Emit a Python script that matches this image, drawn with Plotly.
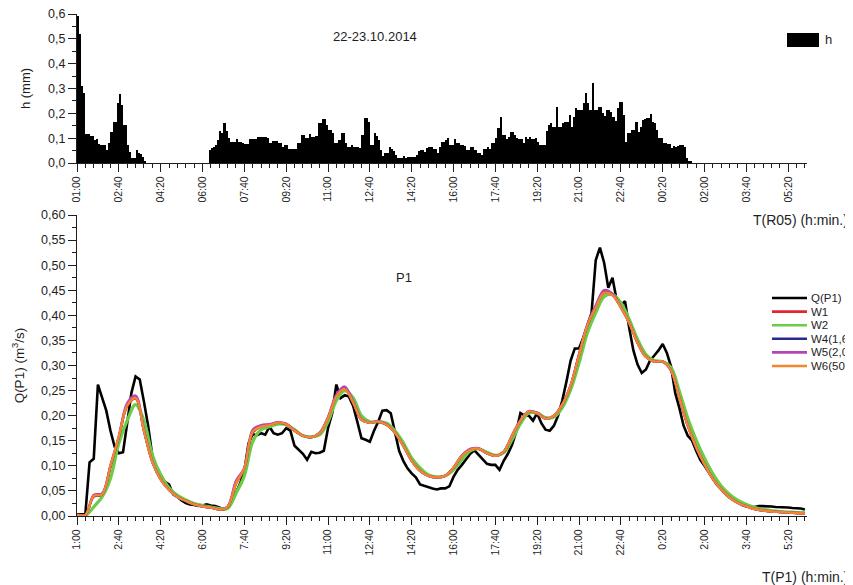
import pandas as pd
import plotly.graph_objects as go

# ---------------- data ----------------
START = "2014-10-22 01:00"
END = "2014-10-23 06:05"

# rainfall depth h (mm) per 5-minute interval, starting 01:00
rain_h = [
    0.59, 0.52, 0.31, 0.28,
    0.117, 0.117, 0.110, 0.109, 0.093, 0.098, 0.077, 0.071, 0.071, 0.071, 0.052, 0.082,
    0.126, 0.166, 0.166, 0.240, 0.277, 0.234, 0.153, 0.153, 0.072, 0.046, 0.019, 0.019,
    0.052, 0.039, 0.035, 0.026, 0.010,
    0.0, 0.0, 0.0, 0.0, 0.0, 0.0, 0.0, 0.0, 0.0, 0.0,
    0.0, 0.0, 0.0, 0.0, 0.0, 0.0, 0.0, 0.0, 0.0, 0.0,
    0.0, 0.0, 0.0, 0.0, 0.0, 0.0, 0.0, 0.0, 0.0, 0.0,
    0.052, 0.059, 0.065, 0.072, 0.093, 0.130, 0.120, 0.162, 0.130, 0.100,
    0.086, 0.086, 0.086, 0.095, 0.086, 0.086, 0.082, 0.077, 0.077, 0.095,
    0.095, 0.095, 0.095, 0.103, 0.106, 0.103, 0.103, 0.106, 0.100, 0.082,
    0.090, 0.090, 0.090, 0.079, 0.079, 0.066, 0.072, 0.072, 0.055, 0.055,
    0.055, 0.055, 0.079, 0.079, 0.113, 0.113, 0.100, 0.100, 0.117, 0.106,
    0.106, 0.109, 0.160, 0.162, 0.176, 0.176, 0.153, 0.133, 0.133, 0.122,
    0.079, 0.079, 0.093, 0.122, 0.122, 0.079, 0.063, 0.063, 0.072, 0.063,
    0.063, 0.063, 0.059, 0.113, 0.180, 0.180, 0.166, 0.072, 0.072, 0.120,
    0.110, 0.093, 0.052, 0.028, 0.039, 0.039, 0.066, 0.058, 0.050, 0.032,
    0.019, 0.019, 0.019, 0.028, 0.019, 0.023, 0.023, 0.023, 0.023, 0.032,
    0.050, 0.052, 0.052, 0.046, 0.059, 0.063, 0.063, 0.055, 0.055, 0.039,
    0.063, 0.086, 0.086, 0.093, 0.100, 0.072, 0.072, 0.095, 0.079, 0.079,
    0.072, 0.072, 0.068, 0.052, 0.052, 0.063, 0.063, 0.052, 0.039, 0.039,
    0.032, 0.055, 0.055, 0.063, 0.055, 0.079, 0.079, 0.100, 0.140, 0.184,
    0.113, 0.113, 0.095, 0.106, 0.126, 0.126, 0.113, 0.100, 0.095, 0.095,
    0.079, 0.103, 0.095, 0.103, 0.095, 0.095, 0.100, 0.086, 0.072, 0.072,
    0.072, 0.130, 0.153, 0.162, 0.146, 0.146, 0.224, 0.146, 0.146, 0.160,
    0.166, 0.166, 0.193, 0.146, 0.187, 0.220, 0.213, 0.213, 0.213, 0.240,
    0.280, 0.243, 0.213, 0.323, 0.213, 0.213, 0.224, 0.227, 0.203, 0.189,
    0.213, 0.213, 0.207, 0.187, 0.170, 0.220, 0.247, 0.247, 0.193, 0.086,
    0.122, 0.122, 0.133, 0.133, 0.166, 0.126, 0.146, 0.173, 0.176, 0.180,
    0.180, 0.197, 0.166, 0.160, 0.133, 0.100, 0.100, 0.082, 0.079, 0.077,
    0.077, 0.059, 0.068, 0.063, 0.068, 0.072, 0.072, 0.063, 0.019, 0.010, 0.010,
]

# measured discharge Q(P1) (m3/s) every 10 minutes, starting 01:00
q_p1 = [
    0.003, 0.003, 0.004, 0.107, 0.114, 0.262, 0.235, 0.210, 0.170, 0.138,
    0.125, 0.127, 0.185, 0.245, 0.278, 0.272, 0.228, 0.180, 0.120, 0.098,
    0.082, 0.068, 0.063, 0.043, 0.038, 0.031, 0.026, 0.023, 0.022, 0.020,
    0.021, 0.023, 0.021, 0.020, 0.017, 0.013, 0.016, 0.028, 0.046, 0.065,
    0.090, 0.145, 0.163, 0.161, 0.165, 0.162, 0.178, 0.165, 0.162, 0.165,
    0.175, 0.170, 0.140, 0.132, 0.124, 0.112, 0.128, 0.125, 0.126, 0.130,
    0.175, 0.205, 0.262, 0.235, 0.241, 0.238, 0.220, 0.188, 0.155, 0.152,
    0.148, 0.170, 0.188, 0.210, 0.211, 0.205, 0.165, 0.130, 0.110, 0.095,
    0.085, 0.077, 0.063, 0.060, 0.058, 0.055, 0.053, 0.055, 0.055, 0.059,
    0.078, 0.092, 0.102, 0.112, 0.124, 0.131, 0.122, 0.112, 0.104, 0.102,
    0.102, 0.092, 0.110, 0.124, 0.142, 0.168, 0.205, 0.200, 0.200, 0.190,
    0.205, 0.185, 0.172, 0.170, 0.180, 0.200, 0.230, 0.268, 0.310, 0.334,
    0.334, 0.355, 0.380, 0.405, 0.510, 0.535, 0.505, 0.455, 0.475, 0.430,
    0.420, 0.428, 0.375, 0.330, 0.302, 0.285, 0.292, 0.310, 0.320, 0.330,
    0.343, 0.325, 0.298, 0.245, 0.215, 0.180, 0.160, 0.151, 0.130, 0.112,
    0.100, 0.088, 0.074, 0.062, 0.054, 0.044, 0.037, 0.032, 0.026, 0.022,
    0.019, 0.018, 0.018, 0.020, 0.020, 0.019, 0.019, 0.018, 0.018, 0.017,
    0.017, 0.016, 0.016, 0.015, 0.013,
]

# modelled discharges every 20 minutes, starting 01:00
w1 = [
    0.002, 0.002, 0.039, 0.042, 0.098, 0.156, 0.219, 0.234, 0.171, 0.109,
    0.074, 0.053, 0.039, 0.030, 0.023, 0.019, 0.017, 0.013, 0.018, 0.064,
    0.094, 0.166, 0.178, 0.181, 0.186, 0.183, 0.170, 0.160, 0.157, 0.165,
    0.194, 0.237, 0.252, 0.226, 0.192, 0.186, 0.188, 0.182, 0.166, 0.141,
    0.111, 0.091, 0.080, 0.077, 0.080, 0.096, 0.120, 0.132, 0.134, 0.125,
    0.120, 0.128, 0.159, 0.190, 0.207, 0.205, 0.194, 0.199, 0.221, 0.259,
    0.321, 0.378, 0.414, 0.444, 0.440, 0.417, 0.386, 0.346, 0.318, 0.308,
    0.308, 0.290, 0.236, 0.181, 0.138, 0.104, 0.075, 0.054, 0.038, 0.027,
    0.019, 0.014, 0.011, 0.009, 0.008, 0.007, 0.006, 0.005,
]
w2 = [
    0.001, 0.001, 0.018, 0.038, 0.075, 0.145, 0.190, 0.222, 0.190, 0.122,
    0.082, 0.056, 0.041, 0.032, 0.025, 0.021, 0.018, 0.015, 0.015, 0.045,
    0.080, 0.148, 0.172, 0.178, 0.183, 0.182, 0.172, 0.160, 0.158, 0.162,
    0.188, 0.230, 0.250, 0.236, 0.200, 0.188, 0.188, 0.185, 0.170, 0.146,
    0.116, 0.096, 0.082, 0.078, 0.080, 0.092, 0.112, 0.130, 0.134, 0.127,
    0.121, 0.126, 0.152, 0.184, 0.205, 0.205, 0.196, 0.197, 0.216, 0.252,
    0.305, 0.365, 0.405, 0.437, 0.442, 0.425, 0.392, 0.352, 0.322, 0.310,
    0.308, 0.296, 0.248, 0.195, 0.152, 0.115, 0.084, 0.060, 0.043, 0.031,
    0.023, 0.017, 0.013, 0.011, 0.009, 0.008, 0.007, 0.007,
]
w4 = [
    0.002, 0.002, 0.040, 0.043, 0.099, 0.157, 0.221, 0.236, 0.170, 0.108,
    0.073, 0.052, 0.038, 0.030, 0.023, 0.019, 0.017, 0.013, 0.018, 0.066,
    0.095, 0.168, 0.179, 0.182, 0.186, 0.183, 0.170, 0.160, 0.157, 0.165,
    0.196, 0.239, 0.255, 0.227, 0.192, 0.186, 0.188, 0.182, 0.166, 0.140,
    0.110, 0.090, 0.080, 0.077, 0.080, 0.096, 0.120, 0.133, 0.134, 0.125,
    0.120, 0.128, 0.160, 0.190, 0.208, 0.205, 0.194, 0.200, 0.222, 0.260,
    0.321, 0.380, 0.416, 0.446, 0.441, 0.416, 0.385, 0.345, 0.317, 0.308,
    0.308, 0.290, 0.235, 0.180, 0.137, 0.103, 0.074, 0.053, 0.037, 0.026,
    0.019, 0.014, 0.011, 0.009, 0.008, 0.007, 0.006, 0.005,
]
w5 = [
    0.002, 0.002, 0.042, 0.045, 0.101, 0.159, 0.225, 0.240, 0.172, 0.109,
    0.073, 0.052, 0.038, 0.030, 0.023, 0.019, 0.017, 0.013, 0.019, 0.070,
    0.096, 0.172, 0.181, 0.183, 0.187, 0.184, 0.171, 0.160, 0.157, 0.166,
    0.197, 0.242, 0.258, 0.229, 0.193, 0.186, 0.189, 0.183, 0.166, 0.140,
    0.110, 0.090, 0.080, 0.077, 0.080, 0.096, 0.121, 0.134, 0.135, 0.125,
    0.120, 0.128, 0.161, 0.191, 0.209, 0.206, 0.194, 0.200, 0.223, 0.261,
    0.322, 0.382, 0.420, 0.450, 0.443, 0.417, 0.385, 0.345, 0.317, 0.308,
    0.308, 0.290, 0.235, 0.180, 0.137, 0.103, 0.074, 0.053, 0.037, 0.026,
    0.019, 0.014, 0.011, 0.009, 0.008, 0.007, 0.006, 0.005,
]
w6 = [
    0.002, 0.002, 0.040, 0.043, 0.100, 0.158, 0.220, 0.235, 0.170, 0.108,
    0.073, 0.052, 0.038, 0.030, 0.023, 0.019, 0.017, 0.013, 0.018, 0.065,
    0.095, 0.168, 0.178, 0.181, 0.186, 0.183, 0.170, 0.160, 0.157, 0.165,
    0.195, 0.238, 0.253, 0.226, 0.192, 0.186, 0.188, 0.182, 0.166, 0.140,
    0.110, 0.090, 0.080, 0.077, 0.080, 0.096, 0.120, 0.132, 0.134, 0.125,
    0.120, 0.128, 0.160, 0.190, 0.208, 0.205, 0.194, 0.200, 0.222, 0.260,
    0.320, 0.380, 0.415, 0.445, 0.440, 0.416, 0.385, 0.345, 0.317, 0.308,
    0.308, 0.290, 0.235, 0.180, 0.137, 0.103, 0.074, 0.053, 0.037, 0.026,
    0.019, 0.014, 0.011, 0.009, 0.008, 0.007, 0.006, 0.005,
]

series_names = ["Q(P1)", "W1", "W2", "W4(1,6", "W5(2,0", "W6(50"]
series_colors = ["#000000", "#e3262b", "#6ccb47", "#2a2a8e", "#b544b5", "#f3852c"]
series_widths = [2.6, 2.4, 3.2, 2.4, 2.4, 2.4]

x_ticktext_top = ["01:00", "02:40", "04:20", "06:00", "07:40", "09:20", "11:00",
                  "12:40", "14:20", "16:00", "17:40", "19:20", "21:00", "22:40",
                  "00:20", "02:00", "03:40", "05:20"]
x_ticktext_bot = ["1:00", "2:40", "4:20", "6:00", "7:40", "9:20", "11:00",
                  "12:40", "14:20", "16:00", "17:40", "19:20", "21:00", "22:40",
                  "0:20", "2:00", "3:40", "5:20"]
y_tickvals_top = [0.0, 0.1, 0.2, 0.3, 0.4, 0.5, 0.6]
y_ticktext_top = ["0,0", "0,1", "0,2", "0,3", "0,4", "0,5", "0,6"]
y_tickvals_bot = [0.0, 0.05, 0.10, 0.15, 0.20, 0.25, 0.30, 0.35, 0.40, 0.45, 0.50, 0.55, 0.60]
y_ticktext_bot = ["0,00", "0,05", "0,10", "0,15", "0,20", "0,25", "0,30",
                  "0,35", "0,40", "0,45", "0,50", "0,55", "0,60"]

# ---------------- time axes ----------------
rain_t = pd.date_range(START, periods=len(rain_h), freq="5min") + pd.Timedelta("150s")
q_t = pd.date_range(START, periods=len(q_p1), freq="10min")
w_t = pd.date_range(START, periods=len(w6), freq="20min")
tickvals_x = pd.date_range(START, periods=len(x_ticktext_top), freq="100min")

# ---------------- figure geometry ----------------
# the page places the figure 8 px from the top-left corner of the window
OFF = 8
WIN_W, WIN_H = 853, 585
W, H = WIN_W - OFF, WIN_H - OFF
PLOT_L, PLOT_R, PLOT_T, PLOT_B = 77, 807, 14, 516     # plot area in window pixels
ML, MR, MT, MB = PLOT_L - OFF, WIN_W - PLOT_R, PLOT_T - OFF, WIN_H - PLOT_B
PW, PH = PLOT_R - PLOT_L, PLOT_B - PLOT_T


def px_x(px):
    return (px - PLOT_L) / PW


def px_y(py):
    return (PLOT_B - py) / PH


FONT = "Arial, 'Liberation Sans', sans-serif"
INK = "#1e1e1e"

fig = go.Figure()

fig.add_trace(go.Bar(
    x=rain_t, y=rain_h, name="h", marker=dict(color="#000000", line=dict(width=0)),
    width=5 * 60 * 1000, xaxis="x", yaxis="y", showlegend=False,
))

for name, vals, t, col, lw in zip(series_names, [q_p1, w1, w2, w4, w5, w6],
                                  [q_t, w_t, w_t, w_t, w_t, w_t],
                                  series_colors, series_widths):
    fig.add_trace(go.Scatter(
        x=t, y=vals, name=name, mode="lines",
        line=dict(color=col, width=lw, shape="linear" if name == "Q(P1)" else "spline"),
        xaxis="x2", yaxis="y2", showlegend=False,
    ))

axis_common = dict(
    showline=True, linecolor=INK, linewidth=1.3, ticks="outside", ticklen=8,
    tickwidth=1.2, tickcolor=INK, showgrid=False, zeroline=False, automargin=False,
    ticklabeloverflow="allow",
)
x_common = dict(
    axis_common, type="date", range=[START, END], tickmode="array",
    tickvals=tickvals_x, tickangle=-90, tickfont=dict(size=10.5, color=INK, family=FONT),
    minor=dict(ticks="outside", ticklen=4, tickwidth=1, tickcolor=INK,
               dtick=20 * 60 * 1000, tick0=START, showgrid=False),
)

fig.update_layout(
    width=W, height=H,
    margin=dict(l=ML, r=MR, t=MT, b=MB, autoexpand=False),
    paper_bgcolor="white", plot_bgcolor="white",
    font=dict(family=FONT, color=INK),
    bargap=0,
    xaxis=dict(x_common, domain=[0, 1], anchor="y", ticktext=x_ticktext_top),
    yaxis=dict(axis_common, domain=[px_y(163), 1], anchor="x", range=[0, 0.6],
               tickmode="array", tickvals=y_tickvals_top, ticktext=y_ticktext_top,
               tickfont=dict(size=12.5, color=INK),
               minor=dict(ticks="outside", ticklen=4, tickwidth=1, tickcolor=INK, dtick=0.05,
                          showgrid=False),
               title=dict(text="h (mm)", font=dict(size=13, color=INK), standoff=14)),
    xaxis2=dict(x_common, domain=[0, 1], anchor="y2", ticktext=x_ticktext_bot),
    yaxis2=dict(axis_common, domain=[0, px_y(215)], anchor="x2", range=[0, 0.6],
                tickmode="array", tickvals=y_tickvals_bot, ticktext=y_ticktext_bot,
                tickfont=dict(size=12.5, color=INK),
                minor=dict(ticks="outside", ticklen=4, tickwidth=1, tickcolor=INK, dtick=0.025,
                           showgrid=False),
                title=dict(text="Q(P1) (m<sup>3</sup>/s)", font=dict(size=13.5, color=INK),
                           standoff=13)),
)

annotations = [
    dict(text="22-23.10.2014", x=px_x(375), y=px_y(37), font=dict(size=13)),
    dict(text="h", x=px_x(823), y=px_y(40), xanchor="left", font=dict(size=13)),
    dict(text="T(R05) (h:min.)", x=px_x(850), y=px_y(220), xanchor="right", font=dict(size=14)),
    dict(text="P1", x=px_x(404), y=px_y(277), font=dict(size=13)),
    dict(text="T(P1) (h:min.)", x=px_x(850), y=px_y(577), xanchor="right", font=dict(size=14)),
]
shapes = [
    dict(type="rect", xref="paper", yref="paper", x0=px_x(787), x1=px_x(819),
         y0=px_y(47), y1=px_y(33), fillcolor="#000000", line=dict(width=0)),
]
for i, (name, col) in enumerate(zip(series_names, series_colors)):
    py = 298 + 13.6 * i
    shapes.append(dict(type="line", xref="paper", yref="paper", x0=px_x(772), x1=px_x(807),
                       y0=px_y(py), y1=px_y(py), line=dict(color=col, width=2.6)))
    annotations.append(dict(text=name, x=px_x(809), y=px_y(py), xanchor="left",
                            font=dict(size=11.5)))

for a in annotations:
    a.update(xref="paper", yref="paper", showarrow=False, yanchor="middle")
    a["font"] = dict(a["font"], color=INK, family=FONT)

fig.update_layout(annotations=annotations, shapes=shapes)

fig.write_html("out.html")
